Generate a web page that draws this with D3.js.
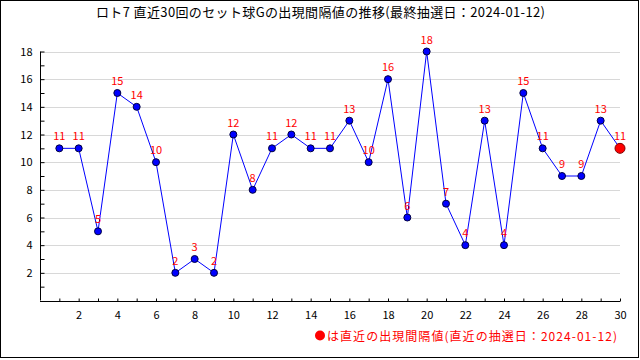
<!DOCTYPE html>
<html><head><meta charset="utf-8">
<script src="https://cdn.jsdelivr.net/npm/d3@7"></script>
<style>body{margin:0;background:#fff}svg{display:block}text{font-family:"Noto Sans CJK JP","DejaVu Sans",sans-serif}</style>
</head><body><svg width="640" height="360"></svg>
<script>
const titleText = "ロト7 直近30回のセット球Gの出現間隔値の推移(最終抽選日：2024-01-12)";
const legendText = "は直近の出現間隔値(直近の抽選日：2024-01-12)";
const draws = d3.range(1, 31);
const values = [11,11,5,15,14,10,2,3,2,12,8,11,12,11,11,13,10,16,6,18,7,4,13,4,15,11,9,9,13,11];
const xTickLabels = [2,4,6,8,10,12,14,16,18,20,22,24,26,28,30];
const yTickLabels = [2,4,6,8,10,12,14,16,18];

const svg = d3.select("svg");
svg.append("rect").attr("x",0.5).attr("y",0.5).attr("width",638).attr("height",357).attr("fill","#fff").attr("stroke","#000");

const x = d3.scaleLinear().domain([0,30]).range([40,620]);
const y = d3.scaleLinear().domain([0,18]).range([300.5,51.5]);

svg.append("text").attr("x",96).attr("y",17).attr("font-size",13).attr("fill","#000")
  .attr("textLength",449).attr("lengthAdjust","spacing").text(titleText);

// gridlines
svg.append("g").selectAll("line").data(yTickLabels).join("line")
  .attr("x1",40).attr("x2",620).attr("y1",d=>Math.round(y(d))+0.5).attr("y2",d=>Math.round(y(d))+0.5)
  .attr("stroke","#d8d8d8");

// y axis
const yAxis = d3.axisRight(y).tickValues(d3.range(1,19)).tickSize(4)
  .tickFormat(d => yTickLabels.includes(d) ? d : "");
const gy = svg.append("g").attr("transform","translate(40.5,0)").call(yAxis);
gy.select(".domain").attr("d","M0,"+y(18)+"V"+y(0)).attr("stroke","#000");
gy.selectAll("text").attr("x",-8).attr("text-anchor","end").attr("font-size",11).attr("fill","#000");

// x axis
const xAxis = d3.axisTop(x).tickValues(d3.range(1,31)).tickSize(3)
  .tickFormat(d => xTickLabels.includes(d) ? d : "");
const gx = svg.append("g").attr("transform","translate(0,"+(Math.round(y(0))+0.5)+")").call(xAxis);
gx.select(".domain").attr("d","M40,0H620").attr("stroke","#000");
gx.selectAll("text").attr("y",17).attr("font-size",11).attr("fill","#000");

// line
const line = d3.line().x((d,i)=>x(draws[i])).y(d=>y(d));
svg.append("path").datum(values).attr("d",line).attr("fill","none").attr("stroke","#0000ff").attr("stroke-width",1);

// points
svg.append("g").selectAll("circle").data(values).join("circle")
  .attr("cx",(d,i)=>x(draws[i])).attr("cy",d=>y(d))
  .attr("r",(d,i)=>i===values.length-1?5:3.5)
  .attr("fill",(d,i)=>i===values.length-1?"#ff0000":"#0000ff")
  .attr("stroke",(d,i)=>i===values.length-1?"#800000":"#000040").attr("stroke-width",1);

// labels
svg.append("g").selectAll("text").data(values).join("text")
  .attr("x",(d,i)=>x(draws[i])).attr("y",d=>y(d)-8)
  .attr("text-anchor","middle").attr("font-size",11).attr("fill","#ff0000").text(d=>d);

// legend
svg.append("circle").attr("cx",320).attr("cy",335.5).attr("r",5).attr("fill","#ff0000");
svg.append("text").attr("x",327).attr("y",340.5).attr("font-size",12).attr("fill","#ff0000")
  .attr("textLength",290).attr("lengthAdjust","spacing").text(legendText);
</script></body></html>
